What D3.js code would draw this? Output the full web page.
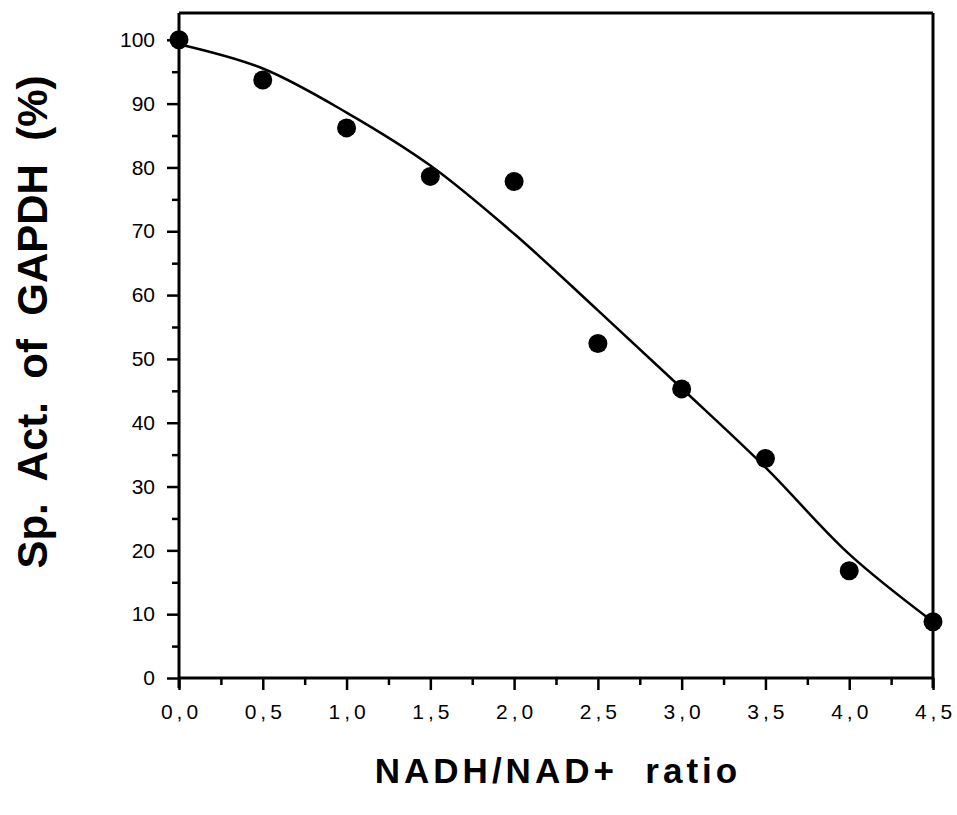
<!DOCTYPE html>
<html>
<head>
<meta charset="utf-8">
<script src="https://cdn.jsdelivr.net/npm/d3@7"></script>
<style>
  body { margin: 0; background: #fff; }
  svg { display: block; font-family: "Liberation Sans", Arial, Helvetica, sans-serif; }
</style>
</head>
<body>
<div id="chart"></div>
<script>
const width = 957;
const height = 815;
const margin = {top: 13, left: 179, bottom: 137, right: 24};

// measured points
const ratios = [0, 0.5, 1.0, 1.5, 2.0, 2.5, 3.0, 3.5, 4.0, 4.5];
const activity = [100, 93.7, 86.2, 78.6, 77.8, 52.4, 45.3, 34.4, 16.8, 8.8];

// fitted curve
const fitRatios = [0, 0.5, 1.0, 1.5, 2.0, 2.5, 3.0, 3.5, 4.0, 4.5];
const fitValues = [99.3, 95.5, 88.6, 80.3, 69.6, 57.6, 45.4, 33.0, 19.4, 8.8];

const xTicks = [0, 0.5, 1.0, 1.5, 2.0, 2.5, 3.0, 3.5, 4.0, 4.5];
const xMinorTicks = [0.25, 0.75, 1.25, 1.75, 2.25, 2.75, 3.25, 3.75, 4.25];
const yTicks = [0, 10, 20, 30, 40, 50, 60, 70, 80, 90, 100];
const yMinorTicks = [5, 15, 25, 35, 45, 55, 65, 75, 85, 95];
const yTop = 104.2;

const x = d3.scaleLinear()
  .domain([0, 4.5])
  .range([margin.left, width - margin.right]);

const y = d3.scaleLinear()
  .domain([0, yTop])
  .range([height - margin.bottom, margin.top]);

const svg = d3.select('#chart').append('svg')
  .attr('width', width)
  .attr('height', height);

const fmt = d => d3.format('.1f')(d).replace('.', ',');

// x axis, major then minor ticks
svg.append('g')
  .attr('transform', `translate(0, ${y(0)})`)
  .call(d3.axisBottom(x).tickValues(xTicks).tickFormat(fmt).tickSize(12).tickPadding(14))
  .call(g => g.select('.domain').remove())
  .call(g => g.selectAll('line').attr('stroke', '#000').attr('stroke-width', 2.5))
  .call(g => g.selectAll('text')
    .attr('fill', '#000')
    .style('font-size', '21px')
    .style('letter-spacing', '4px')
    .attr('dx', '2px'));

svg.append('g')
  .attr('transform', `translate(0, ${y(0)})`)
  .call(d3.axisBottom(x).tickValues(xMinorTicks).tickFormat('').tickSize(7))
  .call(g => g.select('.domain').remove())
  .call(g => g.selectAll('line').attr('stroke', '#000').attr('stroke-width', 2.5));

// y axis
svg.append('g')
  .attr('transform', `translate(${x(0)}, 0)`)
  .call(d3.axisLeft(y).tickValues(yTicks).tickSize(12).tickPadding(12))
  .call(g => g.select('.domain').remove())
  .call(g => g.selectAll('line').attr('stroke', '#000').attr('stroke-width', 2.5))
  .call(g => g.selectAll('text').attr('fill', '#000').style('font-size', '21px'));

svg.append('g')
  .attr('transform', `translate(${x(0)}, 0)`)
  .call(d3.axisLeft(y).tickValues(yMinorTicks).tickFormat('').tickSize(7))
  .call(g => g.select('.domain').remove())
  .call(g => g.selectAll('line').attr('stroke', '#000').attr('stroke-width', 2.5));

// frame: left, bottom, top, right
const frame = svg.append('g').attr('stroke', '#000').attr('stroke-width', 3).attr('fill', 'none');
frame.append('line').attr('x1', x(0)).attr('x2', x(0)).attr('y1', y(yTop)).attr('y2', y(0) + 10);
frame.append('line').attr('x1', x(0)).attr('x2', x(4.5)).attr('y1', y(0)).attr('y2', y(0));
frame.append('line').attr('x1', x(0)).attr('x2', x(4.5)).attr('y1', y(yTop)).attr('y2', y(yTop));
frame.append('line').attr('x1', x(4.5)).attr('x2', x(4.5)).attr('y1', y(yTop)).attr('y2', y(0) + 10);

// fitted curve
const fitData = fitRatios.map((r, i) => ({r: r, v: fitValues[i]}));
svg.append('path')
  .datum(fitData)
  .attr('fill', 'none')
  .attr('stroke', '#000')
  .attr('stroke-width', 2.5)
  .attr('d', d3.line().x(d => x(d.r)).y(d => y(d.v)).curve(d3.curveCatmullRom));

// data points
svg.append('g')
  .selectAll('circle')
  .data(ratios.map((r, i) => ({r: r, v: activity[i]})))
  .enter().append('circle')
  .attr('cx', d => x(d.r))
  .attr('cy', d => y(d.v))
  .attr('r', 9.5)
  .attr('fill', '#000');

// axis titles
svg.append('text')
  .attr('x', (x(0) + x(4.5)) / 2 + 2)
  .attr('y', 783)
  .attr('text-anchor', 'middle')
  .style('font-size', '35px')
  .style('font-weight', 'bold')
  .style('white-space', 'pre')
  .style('letter-spacing', '4px')
  .text('NADH/NAD+  ratio');

svg.append('text')
  .attr('transform', `translate(47, ${322}) rotate(-90)`)
  .attr('text-anchor', 'middle')
  .style('font-size', '42px')
  .style('font-weight', 'bold')
  .style('white-space', 'pre')
  .text('Sp.  Act.  of  GAPDH  (%)');
</script>
</body>
</html>
